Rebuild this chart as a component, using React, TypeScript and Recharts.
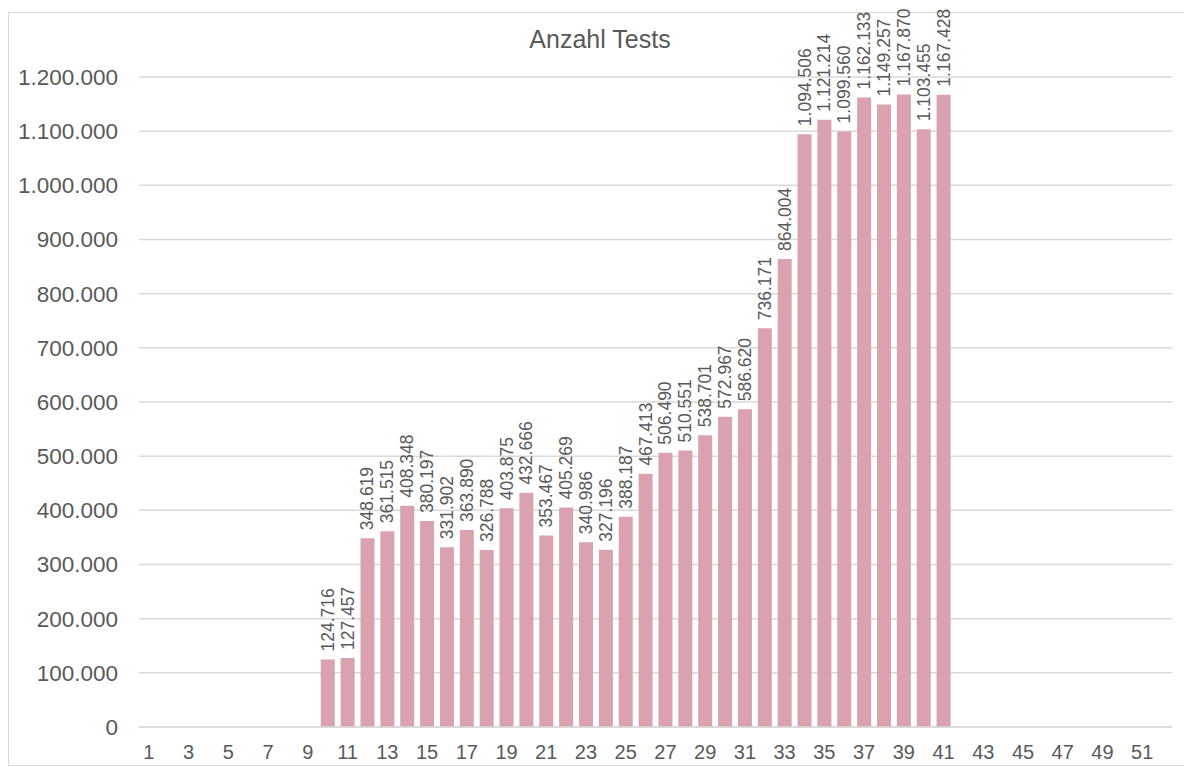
import { BarChart, Bar, XAxis, YAxis, CartesianGrid, LabelList } from "recharts";

// calendar weeks shown on the axis
const weeks = [
  1, 2, 3, 4, 5, 6, 7, 8, 9, 10, 11, 12, 13, 14, 15, 16, 17, 18, 19, 20, 21, 22, 23, 24, 25, 26,
  27, 28, 29, 30, 31, 32, 33, 34, 35, 36, 37, 38, 39, 40, 41, 42, 43, 44, 45, 46, 47, 48, 49, 50,
  51, 52,
];

// number of tests per week (null = no data)
const tests: (number | null)[] = [
  null, null, null, null, null, null, null, null, null,
  124716, 127457, 348619, 361515, 408348, 380197, 331902, 363890, 326788, 403875,
  432666, 353467, 405269, 340986, 327196, 388187, 467413, 506490, 510551, 538701,
  572967, 586620, 736171, 864004, 1094506, 1121214, 1099560, 1162133, 1149257,
  1167870, 1103455, 1167428,
  null, null, null, null, null, null, null, null, null, null, null,
];

const yTicks = [
  0, 100000, 200000, 300000, 400000, 500000, 600000, 700000, 800000, 900000, 1000000,
  1100000, 1200000,
];

const title = "Anzahl Tests";

const FONT = '"Liberation Sans", Arial, sans-serif';
const TEXT = "#595959";
const GRID = "#d9d9d9";
const BAR = "#d9a2ae";

const fmt = (v: number) => String(v).replace(/\B(?=(\d{3})+(?!\d))/g, ".");

const data = weeks.map((w, i) => ({ week: w, tests: tests[i] }));

const RotatedLabel = (props: any) => {
  const { x, y, width, value } = props;
  if (value == null) return null;
  const cx = x + width / 2;
  const ty = y - 8;
  return (
    <text
      x={cx}
      y={ty}
      transform={`rotate(-90 ${cx} ${ty})`}
      textAnchor="start"
      dominantBaseline="central"
      fontSize={17.5}
      fontFamily={FONT}
      fill={TEXT}
    >
      {fmt(value)}
    </text>
  );
};

export default function App() {
  return (
    <div style={{ position: "relative", width: 1184, height: 767, background: "#fff" }}>
      <style>{"body{margin:0}"}</style>
      <div
        style={{
          position: "absolute",
          left: 8,
          top: 12,
          width: 1185,
          height: 754,
          border: `1px solid ${GRID}`,
          boxSizing: "border-box",
        }}
      />
      <div
        style={{
          position: "absolute",
          left: 8,
          width: 1184,
          top: 25,
          textAlign: "center",
          fontFamily: FONT,
          fontSize: 25,
          color: TEXT,
        }}
      >
        {title}
      </div>
      <div style={{ position: "absolute", left: 0, top: 0 }}>
        <BarChart
          width={1184}
          height={767}
          data={data}
          margin={{ top: 77, right: 12, bottom: 0, left: 0 }}
          barCategoryGap="15%"
        >
          <CartesianGrid vertical={false} stroke={GRID} strokeWidth={1.5} />
          <XAxis
            dataKey="week"
            interval={1}
            height={40}
            tickLine={false}
            tickSize={0}
            tickMargin={18}
            axisLine={{ stroke: GRID, strokeWidth: 1.5 }}
            tick={{ fill: TEXT, fontSize: 20, fontFamily: FONT }}
          />
          <YAxis
            width={139}
            domain={[0, 1200000]}
            ticks={yTicks}
            tickFormatter={fmt}
            axisLine={false}
            tickLine={false}
            tickSize={0}
            tickMargin={21}
            tick={{ fill: TEXT, fontSize: 22.5, fontFamily: FONT }}
          />
          <Bar dataKey="tests" fill={BAR} isAnimationActive={false}>
            <LabelList dataKey="tests" content={RotatedLabel} />
          </Bar>
        </BarChart>
      </div>
    </div>
  );
}
